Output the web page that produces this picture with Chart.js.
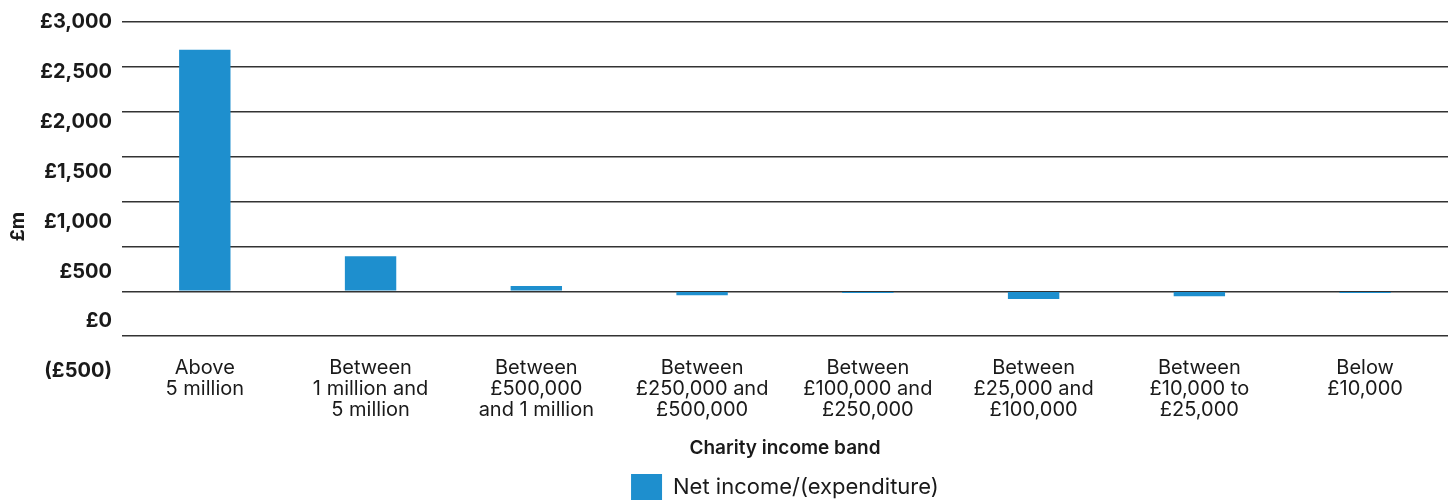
<!DOCTYPE html>
<html>
<head>
<meta charset="utf-8">
<script src="https://cdn.jsdelivr.net/npm/chart.js@4/dist/chart.umd.min.js"></script>
<style>
    html, body { margin: 0; padding: 0; background: #ffffff; }
    #wrap { width: 1452px; height: 500px; position: relative; }
</style>
</head>
<body>
<div id="wrap"><canvas id="chart"></canvas></div>
<script>
// ── data ────────────────────────────────────────────────────────────────
const bandLabels = [
    ['Above', '5 million'],
    ['Between', '1 million and', '5 million'],
    ['Between', '£500,000', 'and 1 million'],
    ['Between', '£250,000 and', '£500,000'],
    ['Between', '£100,000 and', '£250,000'],
    ['Between', '£25,000 and', '£100,000'],
    ['Between', '£10,000 to', '£25,000'],
    ['Below', '£10,000']
];
const netIncome = [2690, 390, 60, -45, -20, -85, -55, -20];
const yTickValues = [3000, 2500, 2000, 1500, 1000, 500, 0, -500];

const seriesName = 'Net income/(expenditure)';
const xTitle = 'Charity income band';
const yTitle = '£m';

// ── styles ──────────────────────────────────────────────────────────────
const BLUE = '#1e8fce';
const INK = '#1a1a1a';
const GRID = '#333333';
const FONT = 'Inter';

const formatPounds = v => v < 0
    ? '(£' + Math.abs(v).toLocaleString('en-GB') + ')'
    : '£' + v.toLocaleString('en-GB');

// rotated "£m" title beside the value labels
const yTitlePlugin = {
    id: 'yTitle',
    afterDraw(chart) {
        const s = chart.scales.yLabels;
        const ctx = chart.ctx;
        ctx.save();
        ctx.translate(18, s.getPixelForValue(1000) + 5);
        ctx.rotate(-Math.PI / 2);
        ctx.font = `700 19px ${FONT}`;
        ctx.fillStyle = INK;
        ctx.textAlign = 'center';
        ctx.textBaseline = 'middle';
        ctx.fillText(yTitle, 0, 0);
        ctx.restore();
    }
};

new Chart(document.getElementById('chart'), {
    type: 'bar',
    data: {
        labels: bandLabels,
        datasets: [{
            label: seriesName,
            data: netIncome,
            backgroundColor: BLUE,
            borderWidth: 0,
            categoryPercentage: 1,
            barPercentage: 0.31,
            yAxisID: 'y'
        }]
    },
    options: {
        responsive: true,
        maintainAspectRatio: false,
        animation: false,
        layout: { padding: { top: 22, right: 4, left: 38, bottom: -11 } },
        plugins: {
            tooltip: { enabled: false },
            legend: {
                position: 'bottom',
                fullSize: false,
                labels: {
                    boxWidth: 31,
                    boxHeight: 27,
                    padding: 4,
                    color: INK,
                    font: { family: FONT, size: 22 }
                }
            }
        },
        scales: {
            x: {
                grid: { display: false },
                border: { display: false },
                ticks: {
                    color: INK,
                    padding: 13,
                    maxRotation: 0,
                    autoSkip: false,
                    font: { family: FONT, size: 20, lineHeight: 1.05 }
                },
                title: {
                    display: true,
                    text: xTitle,
                    color: INK,
                    padding: { top: 4, bottom: 10 },
                    font: { family: FONT, size: 19, weight: '600' }
                }
            },
            y: {
                position: 'left',
                min: -500,
                max: 3000,
                grid: { color: GRID, lineWidth: 1.5, drawTicks: false },
                border: { display: false },
                ticks: { display: false, stepSize: 500 },
                afterFit: axis => { axis.width = 0; }
            },
            // value labels sit on their own, wider spaced axis
            yLabels: {
                position: 'left',
                min: -148,
                max: 3000,
                grid: { display: false },
                border: { display: false },
                afterBuildTicks: axis => {
                    axis.ticks = yTickValues.map(v => ({ value: v }));
                },
                ticks: {
                    color: INK,
                    padding: 2,
                    font: { family: FONT, size: 20, weight: '700' },
                    callback: v => formatPounds(v)
                }
            }
        }
    },
    plugins: [yTitlePlugin]
});
</script>
</body>
</html>
